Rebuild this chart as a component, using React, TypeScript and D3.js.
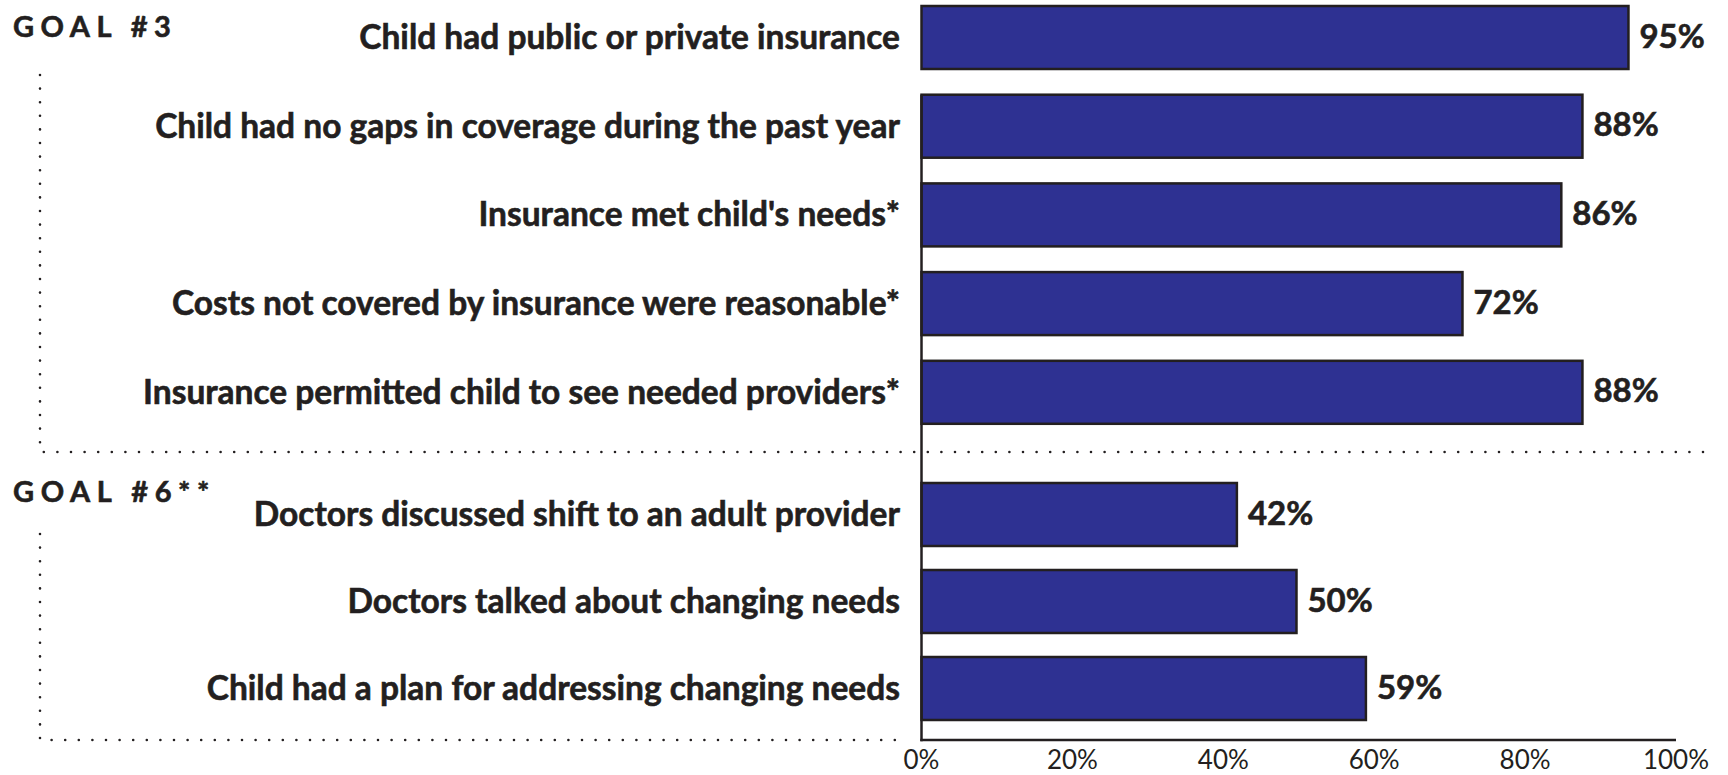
import React from "react";
import * as d3 from "d3";

const goalTitles = ["GOAL #3", "GOAL #6**"];
const goal3Categories = [
  "Child had public or private insurance",
  "Child had no gaps in coverage during the past year",
  "Insurance met child's needs*",
  "Costs not covered by insurance were reasonable*",
  "Insurance permitted child to see needed providers*",
];
const goal3BarValues = [93.7, 87.6, 84.8, 71.7, 87.6];
const goal3Printed = [95, 88, 86, 72, 88];
const goal6Categories = [
  "Doctors discussed shift to an adult provider",
  "Doctors talked about changing needs",
  "Child had a plan for addressing changing needs",
];
const goal6BarValues = [41.8, 49.7, 58.9];
const goal6Printed = [42, 50, 59];
const xTicks = [0, 20, 40, 60, 80, 100];

const W = 1728;
const H = 775;
const INK = "#231f20";
const BLUE = "#2e3192";
const FONT = "Lato, 'Open Sans', sans-serif";

function bandFor(cats: string[], top: number, step: number, bh: number) {
  const n = cats.length;
  return d3
    .scaleBand<string>()
    .domain(cats)
    .range([top, top + (n - 1) * step + bh])
    .paddingInner(1 - bh / step)
    .paddingOuter(0);
}

export default function App() {
  const x = d3.scaleLinear().domain([0, 100]).range([921.5, 1676]);
  const y3 = bandFor(goal3Categories, 6, 88.7, 63);
  const y6 = bandFor(goal6Categories, 483, 87, 63);
  const baseY = 740;
  const fmt = (v: number) => `${v}%`;

  const groups = [
    { cats: goal3Categories, vals: goal3BarValues, printed: goal3Printed, y: y3 },
    { cats: goal6Categories, vals: goal6BarValues, printed: goal6Printed, y: y6 },
  ];

  const dot = {
    stroke: INK,
    strokeWidth: 2.6,
    strokeLinecap: "round" as const,
    strokeDasharray: "0 13.6",
    fill: "none",
  };
  const heavy = { stroke: INK, strokeWidth: 0.6 };

  return (
    <svg
      width={W}
      height={H}
      style={{ position: "absolute", left: 0, top: 0, background: "#fff" }}
      fontFamily={FONT}
    >
      {/* dotted brackets */}
      <path d={`M40,75 V452 H1708`} {...dot} />
      <path d={`M40,534 V740 H898`} {...dot} />

      {/* goal titles */}
      <text x={13} y={37} fontSize={29} fontWeight={700} letterSpacing={6.5} fill={INK} {...heavy}>
        {goalTitles[0]}
      </text>
      <text x={13} y={502} fontSize={29} fontWeight={700} letterSpacing={6.6} fill={INK} {...heavy}>
        {goalTitles[1]}
      </text>

      {groups.map((g, gi) => (
        <g key={gi}>
          {g.cats.map((c, i) => {
            const yy = g.y(c)!;
            const bh = g.y.bandwidth();
            const cy = yy + bh / 2;
            return (
              <g key={c}>
                <rect
                  x={x(0)}
                  y={yy}
                  width={x(g.vals[i]) - x(0)}
                  height={bh}
                  fill={BLUE}
                  stroke={INK}
                  strokeWidth={2.5}
                />
                <text
                  x={900}
                  y={cy + 11.5}
                  textAnchor="end"
                  fontSize={33.5}
                  fontWeight={700}
                  fill={INK}
                  {...heavy}
                >
                  {c}
                </text>
                <text
                  x={x(g.vals[i]) + 11}
                  y={cy + 10}
                  fontSize={33}
                  fontWeight={700}
                  fill={INK}
                  {...heavy}
                >
                  {fmt(g.printed[i])}
                </text>
              </g>
            );
          })}
        </g>
      ))}

      {/* axes */}
      <line x1={x(0)} x2={x(0)} y1={y3(goal3Categories[1])!} y2={baseY + 1.2} stroke={INK} strokeWidth={2.5} />
      <line x1={x(0) - 1.2} x2={x(100)} y1={baseY} y2={baseY} stroke={INK} strokeWidth={2.5} />
      {xTicks.map((t) => (
        <text key={t} x={x(t)} y={769} textAnchor="middle" fontSize={26} fill={INK}>
          {fmt(t)}
        </text>
      ))}
    </svg>
  );
}
